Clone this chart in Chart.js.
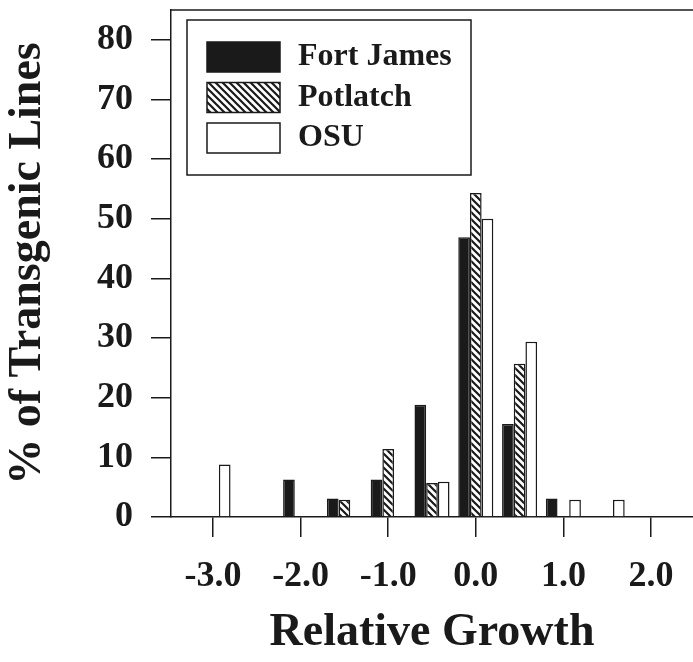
<!DOCTYPE html>
<html lang="en">
<head>
  <meta charset="UTF-8">
  <title>Relative Growth of Transgenic Lines</title>
  <script src="https://cdn.jsdelivr.net/npm/chart.js"></script>
  <style>
    html, body { margin: 0; padding: 0; background: #fff; }
    .chart-box { width: 693px; height: 662px; }
  </style>
</head>
<body>
  <div class="chart-box">
    <canvas id="growthChart"></canvas>
  </div>

  <script>
    // bins of relative growth (bar groups) and % of lines per nursery
    const growthBins = [-3.0, -2.5, -2.0, -1.5, -1.0, -0.5, 0.0, 0.5, 1.0, 1.5, 2.0];
    const fortJames  = [null, null, 6.3, 3.1, 6.3, 18.8, 46.9, 15.6, 3.1, null, null];
    const potlatch   = [null, null, null, 2.9, 11.4, 5.7, 54.3, 25.7, null, null, null];
    const osu        = [8.8, null, null, null, null, 5.9, 50.0, 29.4, 2.9, 2.9, null];

    const xTickValues = [-3, -2, -1, 0, 1, 2];
    const yTickValues = [0, 10, 20, 30, 40, 50, 60, 70, 80];

    const ink = '#1a1a1a';

    // diagonal hatch for Potlatch
    function makeHatch() {
      const s = 7;
      const c = document.createElement('canvas');
      c.width = s; c.height = s;
      const g = c.getContext('2d');
      g.fillStyle = '#fff';
      g.fillRect(0, 0, s, s);
      g.strokeStyle = ink;
      g.lineWidth = 2.2;
      g.beginPath();
      g.moveTo(0, 0); g.lineTo(s, s);
      g.moveTo(-1, s - 1); g.lineTo(1, s + 1);
      g.moveTo(s - 1, -1); g.lineTo(s + 1, 1);
      g.stroke();
      return g.createPattern(c, 'repeat');
    }

    const toPoints = vals => growthBins.map((x, i) => ({ x: x, y: vals[i] }));

    // top frame line + boxed key inside the plot
    const frameAndKey = {
      id: 'frameAndKey',
      afterDraw(chart) {
        const { ctx, chartArea } = chart;
        ctx.save();
        ctx.strokeStyle = ink;
        ctx.lineWidth = 1.5;
        ctx.beginPath();
        ctx.moveTo(chartArea.left, chartArea.top);
        ctx.lineTo(chartArea.right, chartArea.top);
        ctx.stroke();

        const bx = chartArea.left + 16, by = chartArea.top + 10;
        ctx.strokeRect(bx, by, 284, 155);

        ctx.font = 'bold 32px "Liberation Serif"';
        ctx.textBaseline = 'middle';
        chart.data.datasets.forEach((ds, i) => {
          const sy = by + 22 + i * 40.5;
          ctx.fillStyle = ds.backgroundColor;
          ctx.fillRect(bx + 20, sy, 73, 30);
          ctx.strokeStyle = ds.borderColor;
          ctx.lineWidth = 1.5;
          ctx.strokeRect(bx + 20, sy, 73, 30);
          ctx.fillStyle = ink;
          ctx.fillText(ds.label, bx + 111, sy + 15);
        });
        ctx.restore();
      }
    };

    Chart.defaults.font.family = '"Liberation Serif", "Times New Roman", serif';
    Chart.defaults.font.weight = 'bold';
    Chart.defaults.color = ink;

    const ctx = document.getElementById('growthChart').getContext('2d');
    const growthChart = new Chart(ctx, {
      type: 'bar',
      data: {
        datasets: [
          { label: 'Fort James', data: toPoints(fortJames), backgroundColor: ink, borderColor: ink, borderWidth: 1.5 },
          { label: 'Potlatch', data: toPoints(potlatch), backgroundColor: makeHatch(), borderColor: ink, borderWidth: 1.5 },
          { label: 'OSU', data: toPoints(osu), backgroundColor: '#fff', borderColor: ink, borderWidth: 1.5 }
        ]
      },
      options: {
        responsive: true,
        maintainAspectRatio: false,
        animation: false,
        categoryPercentage: 0.8,
        barPercentage: 1.0,
        layout: { padding: { top: 10, right: 0, left: 0, bottom: 0 } },
        plugins: {
          legend: { display: false },
          tooltip: { enabled: false }
        },
        scales: {
          x: {
            type: 'linear',
            min: -3.48,
            max: 2.48,
            offset: false,
            afterBuildTicks: axis => { axis.ticks = xTickValues.map(v => ({ value: v })); },
            afterFit: axis => { axis.height = 145; axis.paddingLeft = 0; axis.paddingRight = 0; },
            ticks: {
              callback: v => v.toFixed(1),
              font: { size: 36 },
              padding: 18,
              color: ink,
              maxRotation: 0,
              autoSkip: false
            },
            grid: { drawOnChartArea: false, drawTicks: true, tickLength: 20, color: ink, lineWidth: 1.5, offset: false },
            border: { display: true, color: ink, width: 1.5 },
            title: { display: true, text: 'Relative Growth', font: { size: 46 }, color: ink, padding: { top: 0, bottom: 1 } }
          },
          y: {
            min: 0,
            max: 85,
            afterBuildTicks: axis => { axis.ticks = yTickValues.map(v => ({ value: v })); },
            afterFit: axis => { axis.width = 171; axis.paddingTop = 0; axis.paddingBottom = 0; },
            ticks: { font: { size: 36 }, padding: 18, color: ink },
            grid: { drawOnChartArea: false, drawTicks: true, tickLength: 20, color: ink, lineWidth: 1.5 },
            border: { display: true, color: ink, width: 1.5 },
            title: { display: true, text: '% of Transgenic Lines', font: { size: 46 }, color: ink, padding: { top: 1, bottom: 0 } }
          }
        }
      },
      plugins: [frameAndKey]
    });
  </script>
</body>
</html>
